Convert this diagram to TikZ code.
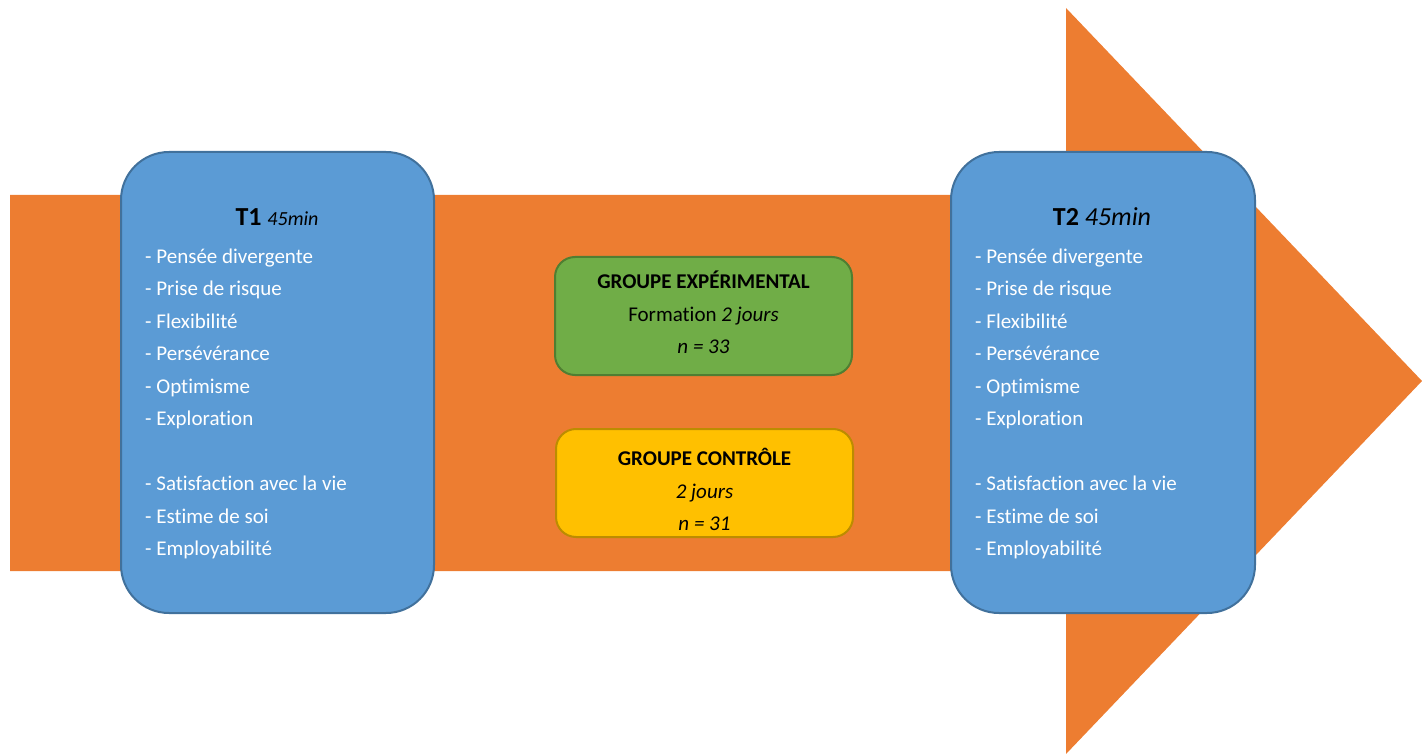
\documentclass[tikz,border=0pt]{standalone}
\usepackage{fontspec}
\setmainfont{Carlito}[Ligatures=NoCommon]
\usepackage{xcolor}
\usepackage{tikz}

\definecolor{arroworange}{HTML}{ED7D31}
\definecolor{tblue}{HTML}{5B9BD5}
\definecolor{tblueline}{HTML}{41719C}
\definecolor{ggreen}{HTML}{70AD47}
\definecolor{ggreenline}{HTML}{507E32}
\definecolor{gyellow}{HTML}{FFC000}
\definecolor{gyellowline}{HTML}{BC8C00}

\begin{document}
\begin{tikzpicture}[x=1pt,y=-1pt,
 tbox/.style={draw=tblueline,fill=tblue,line width=2pt,rounded corners=48pt,minimum height=461pt},
 gbox/.style={line width=2pt,rounded corners=20pt,minimum width=297pt},
 item/.style={anchor=base west,inner sep=0pt,text=white,font=\fontsize{21}{25}\selectfont},
 gline/.style={anchor=base,inner sep=0pt,font=\fontsize{21}{25}\selectfont}]

\useasboundingbox (0,0) rectangle (1422,754);

% big arrow
\fill[arroworange] (10,195) -- (1066,195) -- (1066,8) -- (1422,381)
 -- (1066,754) -- (1066,571) -- (10,571) -- cycle;

% T1 / T2
\node[tbox,minimum width=313pt] (t1) at (277.5,382.5) {};
\node[tbox,minimum width=304pt] (t2) at (1103,382.5) {};
\node[anchor=base,inner sep=0pt] (t1title) at (277,226)
 {\fontsize{26}{30}\selectfont\bfseries T1 {\fontsize{20}{24}\selectfont\mdseries\itshape 45min}};
\node[anchor=base,inner sep=0pt] (t2title) at (1102,226)
 {\fontsize{26}{30}\selectfont\bfseries T2 {\mdseries\itshape 45min}};

\foreach \bx/\bn in {145/one,975/two}{
 \foreach \txt [count=\i] in {Pensée divergente,Prise de risque,Flexibilité,Persévérance,Optimisme,Exploration}
  \node[item] (\bn\i) at (\bx,{263+32.5*(\i-1)}) {- \txt};
 \foreach \txt [count=\i from 7] in {Satisfaction avec la vie,Estime de soi,Employabilité}
  \node[item] (\bn\i) at (\bx,{263+32.5*\i}) {- \txt};
}

% groupes
\node[gbox,draw=ggreenline,fill=ggreen,minimum height=118pt] (gexp) at (703.5,316) {};
\node[gline] (gexp1) at (703.5,288) {\bfseries GROUPE EXPÉRIMENTAL};
\node[gline] (gexp2) at (703.5,321.5) {Formation \itshape 2 jours};
\node[gline] (gexp3) at (703.5,353) {\itshape n = 33};

\node[gbox,draw=gyellowline,fill=gyellow,minimum height=108pt] (gctl) at (704.5,483) {};
\node[gline] (gctl1) at (704.5,465) {\bfseries GROUPE CONTRÔLE};
\node[gline] (gctl2) at (704.5,498) {\itshape 2 jours};
\node[gline] (gctl3) at (704.5,530) {\itshape n = 31};

\end{tikzpicture}
\end{document}
